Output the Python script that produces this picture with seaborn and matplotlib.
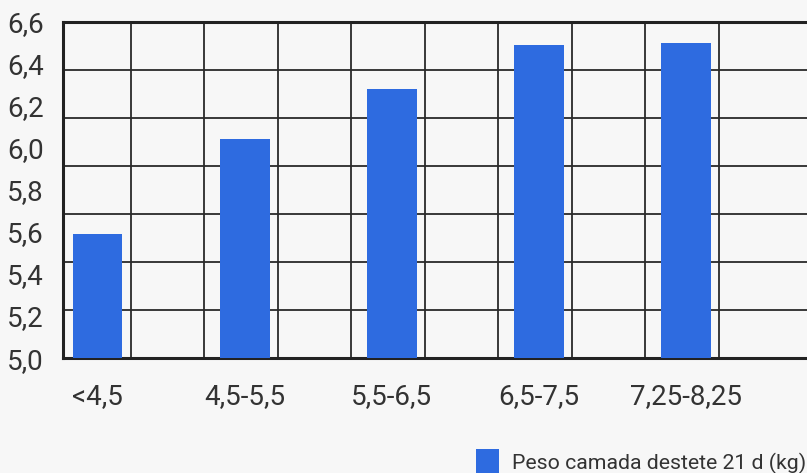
import numpy as np
import pandas as pd
import matplotlib
matplotlib.use("Agg")
import matplotlib.pyplot as plt
import seaborn as sns
from matplotlib.patches import Patch

# data
categories = ['<4,5', '4,5-5,5', '5,5-6,5', '6,5-7,5', '7,25-8,25']
peso_camada = [5.59, 6.04, 6.28, 6.49, 6.50]
y_ticks = [5.0, 5.2, 5.4, 5.6, 5.8, 6.0, 6.2, 6.4, 6.6]
legend_label = 'Peso camada destete 21 d (kg)'

bar_color = '#2e6be0'
bg_color = '#f7f7f7'

sns.set_theme(style='white')
plt.rcParams['font.family'] = ['Roboto', 'DejaVu Sans']

df = pd.DataFrame({'grupo': categories, 'peso': peso_camada})

fig = plt.figure(figsize=(8.07, 4.73), dpi=100, facecolor=bg_color)
ax = fig.add_axes([0.078, 0.243, 0.93, 0.711])
ax.set_facecolor(bg_color)

sns.barplot(data=df, x='grupo', y='peso', color=bar_color, width=0.34,
            saturation=1, linewidth=0, edgecolor='none', ax=ax, zorder=3)

ax.set_ylim(5.0, 6.6)
ax.set_xlim(-0.235, 4.87)
ax.set_yticks(y_ticks)
ax.set_yticklabels([f'{v:.1f}'.replace('.', ',') for v in y_ticks])

# grid: horizontal lines split the range in 7, vertical lines every half category
ax.set_yticks(np.linspace(5.0, 6.6, 8), minor=True)
ax.set_xticks(np.arange(0.225, 4.5, 0.5), minor=True)
ax.grid(False)
ax.grid(which='minor', color='#2a2a2a', linewidth=1.3, zorder=1)
ax.set_axisbelow(True)

ax.tick_params(which='both', length=0)
ax.tick_params(axis='x', labelsize=20, labelcolor='#333333', pad=18)
ax.tick_params(axis='y', labelsize=20, labelcolor='#333333', pad=14)
ax.set_xlabel('')
ax.set_ylabel('')

for side in ['left', 'bottom', 'top']:
    ax.spines[side].set_visible(True)
    ax.spines[side].set_color('#222222')
    ax.spines[side].set_linewidth(2.2)
ax.spines['right'].set_visible(False)

handle = Patch(facecolor=bar_color, edgecolor='none', label=legend_label)
fig.legend(handles=[handle], loc='lower right', bbox_to_anchor=(1.022, -0.045),
           frameon=False, fontsize=15.3, handlelength=1.05, handleheight=1.55,
           handletextpad=0.6, labelcolor='#333333')

fig.savefig('out.png', dpi=100, facecolor=bg_color)
